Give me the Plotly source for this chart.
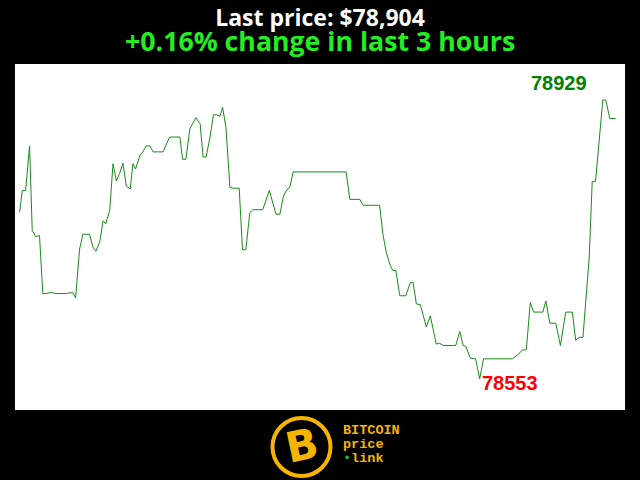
import plotly.graph_objects as go

minutes = [0.0, 0.8, 1.8, 3.0, 3.8, 4.8, 6.0, 7.0, 8.2, 8.6, 10.3, 10.7, 14.3, 14.7, 16.1, 16.9,
           18.1, 19.1, 21.1, 22.1, 23.0, 24.2, 25.2, 26.0, 27.2, 28.2, 29.2, 30.2, 31.2, 32.2,
           33.4, 34.2, 35.0, 36.4, 37.2, 38.2, 39.3, 40.3, 43.3, 45.3, 48.4, 49.2, 50.2, 51.4,
           53.2, 54.5, 55.4, 56.3, 57.5, 58.5, 59.5, 60.5, 61.3, 62.3, 63.5, 64.5, 66.3, 67.3,
           68.3, 69.5, 70.4, 73.4, 75.4, 77.4, 78.6, 79.6, 80.4, 81.6, 82.6, 98.6, 99.7, 102.7,
           103.7, 108.7, 109.7, 110.7, 111.9, 112.7, 113.6, 114.8, 116.6, 118.0, 118.8, 119.8,
           121.0, 122.8, 124.0, 125.8, 126.8, 128.0, 131.7, 132.9, 133.9, 134.7, 136.1, 137.7,
           138.9, 140.1, 148.8, 150.6, 151.8, 153.0, 154.2, 155.2, 158.0, 158.9, 160.1, 161.9,
           163.3, 164.9, 166.9, 167.9, 168.9, 170.1, 172.0, 172.9, 173.9, 175.3, 176.1, 177.0,
           178.2, 180.0]
prices = [78778, 78807, 78807, 78867, 78753, 78745, 78746, 78668, 78668, 78669, 78669, 78668,
          78668, 78669, 78669, 78662, 78728, 78748, 78748, 78731, 78725, 78738, 78766, 78762,
          78780, 78843, 78820, 78830, 78844, 78813, 78809, 78843, 78836, 78855, 78859, 78867,
          78867, 78859, 78859, 78879, 78879, 78849, 78849, 78890, 78905, 78897, 78852, 78852,
          78879, 78909, 78909, 78907, 78919, 78892, 78811, 78810, 78810, 78727, 78727, 78777,
          78781, 78781, 78807, 78775, 78775, 78798, 78806, 78812, 78832, 78832, 78795, 78795,
          78787, 78787, 78748, 78724, 78706, 78699, 78699, 78665, 78665, 78683, 78683, 78654,
          78653, 78623, 78638, 78600, 78601, 78598, 78598, 78617, 78598, 78597, 78581, 78580,
          78553, 78580, 78580, 78586, 78592, 78592, 78656, 78643, 78643, 78658, 78628, 78628,
          78598, 78643, 78643, 78605, 78609, 78609, 78717, 78819, 78819, 78892, 78929, 78929,
          78904, 78904]

title_line1 = "Last price: $78,904"
title_line2 = "+0.16% change in last 3 hours"
logo_words = ["BITCOIN", "price", "link"]

max_p = max(prices)
min_p = min(prices)
max_t = minutes[prices.index(max_p)]
min_t = minutes[prices.index(min_p)]

fig = go.Figure()
fig.add_trace(go.Scatter(x=minutes, y=prices, mode="lines",
                         line=dict(color="#1a8a1a", width=1), hoverinfo="skip"))

fig.update_layout(
    width=640, height=480,
    margin=dict(l=15, r=15, t=64, b=70),
    paper_bgcolor="#000000", plot_bgcolor="#ffffff",
    showlegend=False,
    xaxis=dict(visible=False, range=[-1.4, 182.8]),
    yaxis=dict(visible=False, range=[78511, 78977.5]),
)

fig.add_annotation(x=max_t, y=max_p, text=f"<b>{max_p}</b>", showarrow=False,
                   xshift=-44, yshift=17, yanchor="middle", xanchor="center",
                   font=dict(family="Liberation Sans", size=20, color="#008000"))
fig.add_annotation(x=min_t, y=min_p, text=f"<b>{min_p}</b>", showarrow=False,
                   xshift=30, yshift=-4, yanchor="middle", xanchor="center",
                   font=dict(family="Liberation Sans", size=20, color="#ff0000"))

title_text = (f"<span style='font-size:23px;color:#ffffff'><b>{title_line1}</b></span><br>"
              f"<span style='font-size:26.7px;color:#22ee22'><b>{title_line2}</b></span>")
fig.add_annotation(xref="paper", yref="paper", x=0.5, y=1, yshift=34, yanchor="middle",
                   xanchor="center", align="center", text=title_text, showarrow=False,
                   font=dict(family="Open Sans", size=19.3, color="#ffffff"))

orange = "#f5b400"
fig.add_shape(type="circle", xref="paper", yref="paper",
              x0=0.4221, x1=0.5172, y0=-0.1908, y1=-0.0231,
              line=dict(color=orange, width=4), fillcolor="#000000")
fig.add_annotation(xref="paper", yref="paper", x=0.4705, y=-0.104, text="<b>B</b>",
                   showarrow=False, textangle=-12, xanchor="center", yanchor="middle",
                   font=dict(family="DejaVu Sans", size=42, color=orange))

logo_text = (f"<span style='font-size:13.5px'><b>{logo_words[0]}</b></span><br>"
             f"<span style='font-size:13.5px'><b>{logo_words[1]}</b></span><br>"
             f"<span style='font-size:13.5px'><span style='color:#22bb22'>\u2022</span>"
             f"<b>{logo_words[2]}</b></span>")
fig.add_annotation(xref="paper", yref="paper", x=0.5344, y=-0.0983, xanchor="left",
                   yanchor="middle", align="left", text=logo_text, showarrow=False,
                   font=dict(family="Liberation Mono", size=10.8, color=orange))

fig.write_html("out.html", config={"displayModeBar": False},
               post_script="document.body.style.margin='0';document.body.style.background='#000';")
